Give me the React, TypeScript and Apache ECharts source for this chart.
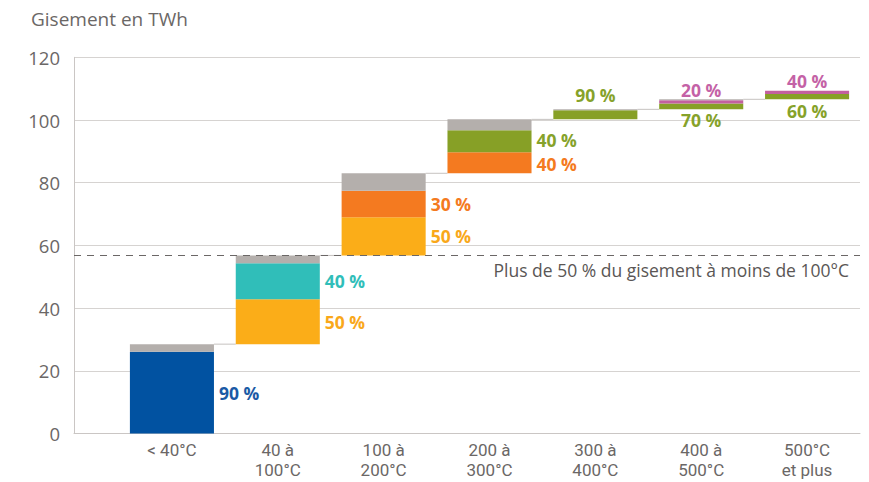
import React, { useEffect, useRef } from 'react';
import * as echarts from 'echarts';

const titleText = 'Gisement en TWh';
const categories = ['< 40°C', '40 à\n100°C', '100 à\n200°C', '200 à\n300°C', '300 à\n400°C', '400 à\n500°C', '500°C\net plus'];
const lowerPart = [26.1, 14.3, 12.2, 6.7, 2.9, 1.9, 1.7];
const upperPart = [0, 11.5, 8.4, 7.0, 0, 1.0, 1.0];
const restPart = [2.4, 2.5, 5.6, 3.5, 0.3, 0.3, 0];
const lowerShare = ['90 %', '50 %', '50 %', '40 %', '90 %', '70 %', '60 %'];
const upperShare = ['', '40 %', '30 %', '40 %', '', '20 %', '40 %'];
const lowerKind = ['blue', 'yellow', 'yellow', 'orange', 'green', 'green', 'green'];
const upperKind = ['', 'teal', 'orange', 'green', '', 'pink', 'pink'];
const yTicks = [0, 20, 40, 60, 80, 100, 120];
const thresholdValue = 56.8;
const thresholdText = 'Plus de 50 % du gisement à moins de 100°C';

const palette: Record<string, string> = {
  blue: '#0152a1',
  yellow: '#fbad18',
  teal: '#30beb9',
  orange: '#f47a20',
  green: '#87a026',
  pink: '#c3609f',
  rest: '#b4afac',
};
const labelPalette: Record<string, string> = {
  blue: '#1b5aa5',
  yellow: '#f9a81a',
  teal: '#30beb9',
  orange: '#f47a20',
  green: '#86a22a',
  pink: '#c462a6',
};

const FONT = "'Open Sans', 'Noto Sans', sans-serif";
const NARROW = "Roboto, 'Open Sans', sans-serif";

export default function App() {
  const ref = useRef<HTMLDivElement>(null);
  useEffect(() => {
    if (!ref.current) return;
    const chart = echarts.init(ref.current, undefined, { renderer: 'svg' });

    const totals = lowerPart.map((v, i) => v + upperPart[i] + restPart[i]);
    const base: number[] = [];
    let acc = 0;
    totals.forEach((t) => { base.push(+acc.toFixed(2)); acc += t; });
    const tops = base.map((b, i) => +(b + totals[i]).toFixed(2));

    const labelFont = { fontFamily: FONT, fontSize: 17.5, lineHeight: 18, fontWeight: 'bold' as const };

    const lowerData = lowerPart.map((v, i) => {
      let position = 'right';
      let distance = 5;
      if (i === 4) { position = 'top'; distance = 6; }
      else if (i > 4) { position = 'bottom'; distance = i === 5 ? 2 : 3; }
      return {
        value: v,
        itemStyle: { color: palette[lowerKind[i]] },
        label: {
          show: !!lowerShare[i], position, distance,
          offset: i === 3 ? [0, 1.5] : [0, 0],
          formatter: lowerShare[i], color: labelPalette[lowerKind[i]], ...labelFont,
        },
      };
    });
    const upperData = upperPart.map((v, i) => ({
      value: v,
      itemStyle: { color: upperKind[i] ? palette[upperKind[i]] : 'transparent' },
      label: {
        show: !!upperShare[i] && v > 0,
        position: i < 4 ? 'right' : 'top',
        distance: i < 4 ? 5 : 1,
        offset: i === 3 ? [0, -1.5] : [0, 0],
        formatter: upperShare[i], color: upperKind[i] ? labelPalette[upperKind[i]] : '#000', ...labelFont,
      },
    }));

    const option: any = {
      animation: false,
      title: {
        text: titleText, left: 31, top: 9, padding: 0,
        textStyle: { fontFamily: FONT, fontSize: 19, fontWeight: 'normal', color: '#6b6766' },
      },
      grid: [
        { left: 74, right: 9, top: 57.3, bottom: 48.5 },
        { left: 119, right: 9, top: 57.3, bottom: 48.5 },
      ],
      xAxis: [
        {
          gridIndex: 0, type: 'value', min: 0, max: 1,
          axisLine: { show: true, lineStyle: { color: '#cac6c4' } },
          axisTick: { show: false }, axisLabel: { show: false }, splitLine: { show: false },
        },
        {
          gridIndex: 1, type: 'category', data: categories,
          axisLine: { show: false }, axisTick: { show: false },
          axisLabel: { color: '#6b6766', fontFamily: NARROW, fontSize: 17, lineHeight: 20, margin: 6, interval: 0 },
        },
      ],
      yAxis: [
        {
          gridIndex: 0, type: 'value', min: yTicks[0], max: yTicks[yTicks.length - 1], interval: 20,
          axisLine: { show: true, lineStyle: { color: '#cac6c4' } },
          axisTick: { show: false },
          axisLabel: { color: '#6b6766', fontFamily: FONT, fontSize: 18.5, margin: 14 },
          splitLine: { show: true, lineStyle: { color: '#d6d3d1', width: 1 } },
        },
        {
          gridIndex: 1, type: 'value', min: yTicks[0], max: yTicks[yTicks.length - 1], interval: 20,
          axisLine: { show: false }, axisTick: { show: false }, axisLabel: { show: false }, splitLine: { show: false },
        },
      ],
      series: [
        {
          type: 'line', xAxisIndex: 0, yAxisIndex: 0, data: [], silent: true,
          markLine: {
            silent: true, symbol: 'none',
            lineStyle: { type: [7, 6], color: '#6b6766', width: 1.2 },
            label: {
              show: true, position: 'insideEndBottom', formatter: thresholdText,
              color: '#5a5655', fontFamily: FONT, fontSize: 17.5, distance: 3, padding: [3, 8, 0, 0],
            },
            data: [{ yAxis: thresholdValue }],
          },
          z: 5,
        },
        {
          type: 'custom', xAxisIndex: 1, yAxisIndex: 1, silent: true,
          data: tops.slice(0, tops.length - 1).map((t, i) => [i, t]),
          renderItem: (params: any, api: any) => {
            const i = api.value(0);
            const t = api.value(1);
            const p0 = api.coord([i, t]);
            const p1 = api.coord([i + 1, t]);
            const half = api.size([1, 0])[0] * 0.397;
            return {
              type: 'line',
              shape: { x1: p0[0] + half, y1: p0[1], x2: p1[0] - half, y2: p1[1] },
              style: { stroke: '#c6c2c0', lineWidth: 1 },
            };
          },
          z: 1,
        },
        {
          type: 'bar', xAxisIndex: 1, yAxisIndex: 1, stack: 'w', barWidth: '79.4%', silent: true,
          itemStyle: { color: 'transparent' }, data: base,
        },
        {
          type: 'bar', xAxisIndex: 1, yAxisIndex: 1, stack: 'w', barWidth: '79.4%', data: lowerData,
        },
        {
          type: 'bar', xAxisIndex: 1, yAxisIndex: 1, stack: 'w', barWidth: '79.4%', data: upperData,
        },
        {
          type: 'bar', xAxisIndex: 1, yAxisIndex: 1, stack: 'w', barWidth: '79.4%',
          itemStyle: { color: palette.rest }, data: restPart,
        },
      ],
    };
    chart.setOption(option);
    return () => chart.dispose();
  }, []);
  return <div ref={ref} style={{ position: 'fixed', left: 0, top: 0, width: 869, height: 482, background: '#fff' }} />;
}
